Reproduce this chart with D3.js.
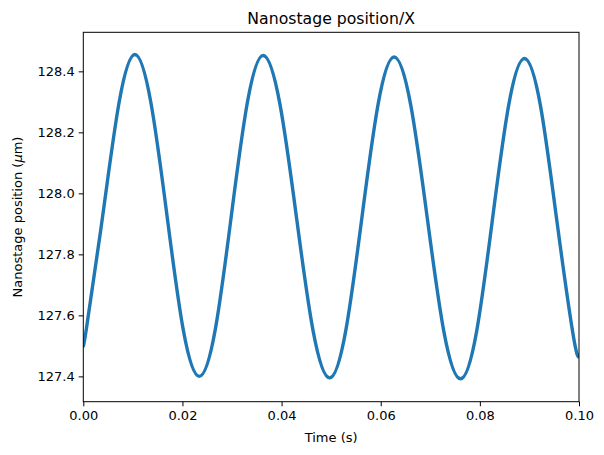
<!DOCTYPE html>
<html>
<head>
<meta charset="utf-8">
<script src="https://cdn.jsdelivr.net/npm/d3@7"></script>
<style>
  body { margin: 0; background: #fff; }
  svg { display: block; font-family: "DejaVu Sans", sans-serif; }
</style>
</head>
<body>
<svg id="chart" width="604" height="455"></svg>
<script>
// Data (time in s, position in µm)
const timeS = [0.0000, 0.0006, 0.0039, 0.0072, 0.0104, 0.01365, 0.0169, 0.02015, 0.0234,
  0.02663, 0.02985, 0.03308, 0.0363, 0.03965, 0.0430, 0.04635, 0.0497,
  0.05295, 0.0562, 0.05945, 0.0627, 0.06605, 0.0694, 0.07275, 0.0761,
  0.07933, 0.08255, 0.08578, 0.0890, 0.09225, 0.0955, 0.09875, 0.1000];
const positionUm = [127.51, 127.554, 127.925, 128.296, 128.455, 128.296, 127.925, 127.554, 127.400,
  127.554, 127.925, 128.296, 128.452, 128.294, 127.922, 127.550, 127.395,
  127.550, 127.920, 128.290, 128.447, 128.290, 127.918, 127.546, 127.392,
  127.546, 127.916, 128.286, 128.442, 128.285, 127.914, 127.543, 127.462];
const xTicks = [0, 0.02, 0.04, 0.06, 0.08, 0.10];
const yTicks = [127.4, 127.6, 127.8, 128.0, 128.2, 128.4];
const titleText = "Nanostage position/X";
const xLabel = "Time (s)";

const margin = {left: 83.3, right: 25, top: 32.3, bottom: 53.3};
const W = 604, H = 455;
const iw = W - margin.left - margin.right;
const ih = H - margin.top - margin.bottom;

const svg = d3.select("#chart");
const g = svg.append("g").attr("transform", `translate(${margin.left},${margin.top})`);

const x = d3.scaleLinear().domain([0, 0.1]).range([0, iw]);
const y = d3.scaleLinear().domain([127.317, 128.528]).range([ih, 0]);

const data = timeS.map((t, i) => ({t, v: positionUm[i]}));

g.append("defs").append("clipPath").attr("id", "clip")
  .append("rect").attr("width", iw).attr("height", ih);

const line = d3.line().x(d => x(d.t)).y(d => y(d.v)).curve(d3.curveNatural);
g.append("path").datum(data)
  .attr("clip-path", "url(#clip)")
  .attr("fill", "none")
  .attr("stroke", "#1f77b4")
  .attr("stroke-width", 3.4)
  .attr("stroke-linejoin", "round")
  .attr("d", line);

const xAxis = d3.axisBottom(x).tickValues(xTicks).tickFormat(d3.format(".2f"))
  .tickSize(4.6).tickPadding(4);
const yAxis = d3.axisLeft(y).tickValues(yTicks).tickFormat(d3.format(".1f"))
  .tickSize(4.6).tickPadding(4);

const gx = g.append("g").attr("transform", `translate(0,${ih})`).call(xAxis);
const gy = g.append("g").call(yAxis);
[gx, gy].forEach(a => {
  a.select(".domain").remove();
  a.selectAll("text").attr("font-size", 13).attr("fill", "#000")
    .attr("font-family", "DejaVu Sans, sans-serif");
  a.selectAll("line").attr("stroke", "#000").attr("stroke-width", 1);
});

g.append("rect").attr("width", iw).attr("height", ih)
  .attr("fill", "none").attr("stroke", "#000").attr("stroke-width", 1);

svg.append("text").attr("x", margin.left + iw / 2).attr("y", 24)
  .attr("text-anchor", "middle").attr("font-size", 15.7).text(titleText);

svg.append("text").attr("x", margin.left + iw / 2).attr("y", 442)
  .attr("text-anchor", "middle").attr("font-size", 13).text(xLabel);

const yl = svg.append("text")
  .attr("transform", `translate(22,${margin.top + ih / 2}) rotate(-90)`)
  .attr("text-anchor", "middle").attr("font-size", 13);
yl.append("tspan").text("Nanostage position (");
yl.append("tspan").attr("font-style", "italic").text("μ");
yl.append("tspan").text("m)");
</script>
</body>
</html>
